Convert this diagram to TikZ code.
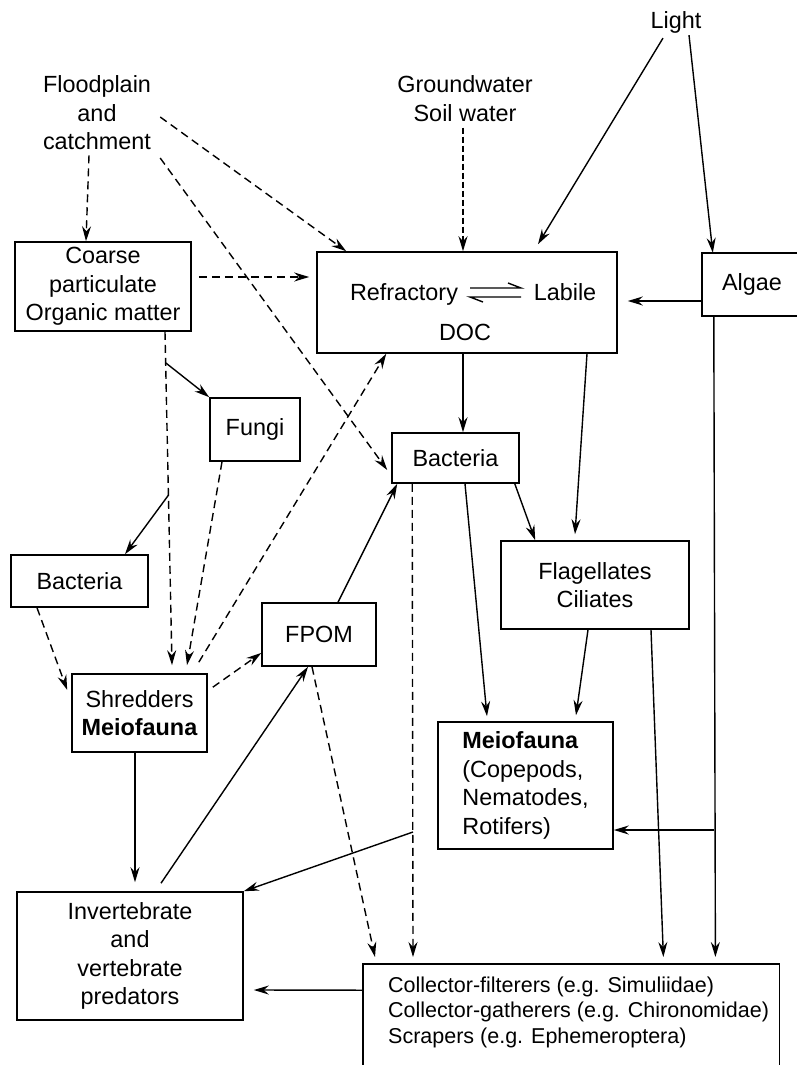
\documentclass[tikz,border=0pt]{standalone}
\usepackage{fontspec}
\setmainfont{Liberation Sans}
\usetikzlibrary{arrows.meta,calc}
\newcommand\figfont{\fontsize{23.4}{28.5}\selectfont}
\newcommand\smallfigfont{\fontsize{21.5}{25.5}\selectfont}
\begin{document}
\begin{tikzpicture}[x=1pt,y=-1pt,
  box/.style={draw,line width=1.6pt,inner sep=0pt,align=center,font=\figfont},
  lbl/.style={inner sep=0pt,align=center,font=\figfont},
  frame/.style={line width=1.6pt},
  link/.style={line width=1.4pt,-{Stealth[length=15pt,width=9pt,inset=5pt]}},
  dlink/.style={link,dash pattern=on 8pt off 5pt},
  plain/.style={line width=1.4pt}]

\fill[white] (0,0) rectangle (796,1065);
\useasboundingbox (0,0) rectangle (796,1065);
\coordinate (pagebottom) at (0,1065);

% sources
\node[lbl] (light) at (676,22) {Light};
\node[lbl] (ground) at (465,98.7) {Groundwater\\Soil water};
\node[lbl] (flood) at (97,113) {Floodplain\\and\\catchment};

% compartments
\node[box,minimum width=176pt,minimum height=89pt] (coarse) at (103,286.5) {Coarse\\particulate\\Organic matter};
\node[box,minimum width=300pt,minimum height=101pt] (doc) at (467,302.5) {};
\node[lbl,anchor=base] (refr) at (404,300) {Refractory};
\node[lbl,anchor=base] (labile) at (565,300) {Labile};
\node[lbl,anchor=base] (doctxt) at (465,340) {DOC};
\draw[line width=1.4pt] (470,288) -- (521,288) -- (508,283);
\draw[line width=1.4pt] (521,297) -- (470,297) -- (483,302);

\node[lbl,minimum width=100pt,minimum height=63pt] (algae) at (752,284.5) {Algae};
\draw[frame] (algae.north east) -- (algae.north west) -- (algae.south west) -- (algae.south east);

\node[box,minimum width=90pt,minimum height=63pt] (fungi) at (255,429.5) {Fungi};
\node[box,minimum width=137pt,minimum height=52pt] (bacl) at (79.5,581) {Bacteria};
\node[box,minimum width=114pt,minimum height=63pt] (fpom) at (319,634.5) {FPOM};
\node[box,minimum width=135pt,minimum height=78pt] (shred) at (139.5,713) {Shredders\\\textbf{Meiofauna}};
\node[box,minimum width=127pt,minimum height=50pt] (bacm) at (455.5,458) {Bacteria};
\node[box,minimum width=188pt,minimum height=88pt] (flag) at (595,585) {Flagellates\\Ciliates};
\node[box,minimum width=175pt,minimum height=127pt,align=left] (meio) at (525.5,785.5) {\textbf{Meiofauna}\\(Copepods,\\Nematodes,\\Rotifers)};
\node[box,minimum width=226pt,minimum height=128pt] (invert) at (130,956) {Invertebrate\\and\\vertebrate\\predators};

\node[inner sep=0pt,minimum width=416pt,minimum height=101pt,anchor=north west] (coll) at (363,964) {};
\draw[frame] (coll.north west |- pagebottom) -- (coll.north west) -- (coll.north east) -- (coll.north east |- pagebottom);
\node[inner sep=0pt,align=left,anchor=west,font=\smallfigfont] (colltxt) at (388,1012) {Collector-filterers (e.g. Simuliidae)\\Collector-gatherers (e.g. Chironomidae)\\Scrapers (e.g. Ephemeroptera)};

% inputs from the catchment, groundwater and light
\draw[dlink] ([xshift=-8,yshift=-5]flood.south) -- ([xshift=-17]coarse.north);
\draw[dlink] ([xshift=9,yshift=-4]flood.east) -- ([xshift=30]doc.north west);
\draw[dlink] ([xshift=9,yshift=-45]flood.east) -- ([xshift=-4,yshift=-12]bacm.west);
\draw[dlink] ([xshift=7,yshift=9.5]coarse.east) -- ([xshift=-7,yshift=25.5]doc.west);
\draw[dlink,dash pattern=on 6pt off 3pt] ([xshift=-2,yshift=-6]ground.south) -- ([xshift=-4]doc.north);
\draw[link] ([xshift=-13,yshift=-5]light.south) -- ([xshift=71,yshift=7]doc.north);
\draw[link] ([xshift=13,yshift=-2]light.south) -- ([xshift=11]algae.north west);
\draw[link] ([yshift=-16.5]algae.west) -- ([xshift=10,yshift=1.5]doc.east);

% algae down to grazers and meiofauna
\draw[link] ([xshift=12]algae.south west) -- ([xshift=-64,yshift=7]coll.north east);
\coordinate (algbr) at (714,830);
\draw[link] (algbr) -- ([yshift=-44.5]meio.east);

% coarse organic matter pathway
\path ([xshift=62]coarse.south) coordinate (cb) ([xshift=32.5,yshift=8]shred.north) coordinate (st);
\draw[dlink] (cb) -- (st);
\coordinate (j1) at ($(cb)!0.093!(st)$);
\coordinate (j2) at ($(cb)!0.49!(st)$);
\draw[link] (j1) -- (fungi.north west);
\draw[link] (j2) -- ([xshift=45.5]bacl.north);
\draw[dlink] ([xshift=-33]fungi.south) -- ([xshift=47.5,yshift=8]shred.north);
\draw[dlink] ([xshift=-42.5]bacl.south) -- ([xshift=-4,yshift=23]shred.west);
\draw[dlink] ([xshift=-9,yshift=11]shred.north east) -- ([xshift=70]doc.south west);
\draw[dlink] ([xshift=5,yshift=-14]shred.north east) -- ([yshift=-18.5]fpom.west);
\draw[link] ([xshift=19]fpom.north) -- ([xshift=6]bacm.south west);
\draw[dlink] ([xshift=-7]fpom.south) -- ([xshift=12,yshift=7]coll.north west);
\draw[link] ([xshift=31,yshift=8]invert.north) -- ([xshift=-11]fpom.south);
\draw[link] ([xshift=-4.5]shred.south) -- ([xshift=5,yshift=9]invert.north);

% microbial loop
\draw[link] ([xshift=-4]doc.south) -- ([xshift=7.5]bacm.north);
\draw[link] ([xshift=120]doc.south) -- ([xshift=-20,yshift=6]flag.north);
\draw[dlink] ([xshift=21]bacm.south west) -- ([xshift=50,yshift=7]coll.north west);
\draw[link] ([xshift=9.5]bacm.south) -- ([xshift=-38.5,yshift=5]meio.north);
\draw[link] ([xshift=-5]bacm.south east) -- ([xshift=35]flag.north west);
\draw[link] ([xshift=-7]flag.south) -- ([xshift=50.5,yshift=6]meio.north);
\draw[link] ([xshift=56]flag.south) -- ([xshift=-116,yshift=7]coll.north east);

% to predators
\coordinate (mj) at (413,832);
\draw[link] (mj) -- (invert.north east);
\draw[link] ([yshift=24.5]coll.west) -- ([xshift=10,yshift=-34]invert.east);
\end{tikzpicture}
\end{document}
